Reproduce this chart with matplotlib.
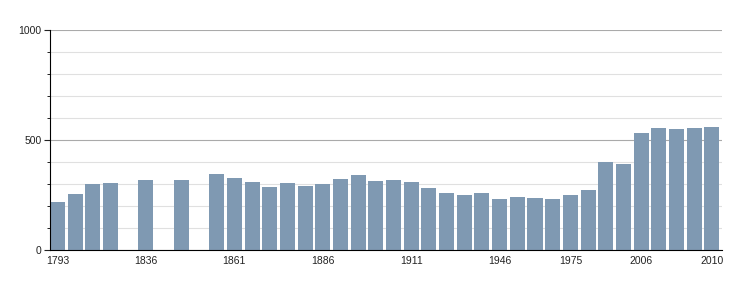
import numpy as np
import matplotlib.pyplot as plt
from matplotlib.ticker import MultipleLocator

# census years, one slot each; None = no data for that year
years = [1793, 1800, 1806, 1821, 1831, 1836, 1841, 1846, 1851, 1856,
         1861, 1866, 1872, 1876, 1881, 1886, 1891, 1896, 1901, 1906,
         1911, 1921, 1926, 1931, 1936, 1946, 1954, 1962, 1968, 1975,
         1982, 1990, 1999, 2006, 2007, 2008, 2009, 2010]
population = [218, 255, 300, 305, None, 319, None, 319, None, 346,
              328, 310, 287, 305, 291, 300, 323, 341, 314, 319,
              310, 282, 259, 250, 259, 232, 241, 237, 232, 250,
              273, 401, 392, 533, 555, 551, 555, 560]
labeled_years = [1793, 1836, 1861, 1886, 1911, 1946, 1975, 2006, 2010]

plt.rcParams['font.family'] = ['Liberation Sans', 'DejaVu Sans']

fig = plt.figure(figsize=(7.5, 3), dpi=100)
ax = fig.add_axes([50 / 750, 50 / 300, 672 / 750, 220 / 300])

bar_w = 0.85
x = np.arange(len(years))
vals = np.array([np.nan if v is None else v for v in population], dtype=float)
# bars sit at the left of each slot, flush with the y axis
ax.bar(x, np.nan_to_num(vals), width=bar_w, align='edge', color='#7f99b2', zorder=3)

ax.set_xlim(0, len(years))
ax.set_ylim(0, 1000)

ax.yaxis.set_major_locator(MultipleLocator(500))
ax.yaxis.set_minor_locator(MultipleLocator(100))
ax.grid(axis='y', which='minor', color='#e0e0e0', linewidth=0.8, zorder=0)
ax.grid(axis='y', which='major', color='#aaaaaa', linewidth=0.8, zorder=1)

pos = [years.index(y) + bar_w / 2 for y in labeled_years]
ax.set_xticks(pos)
ax.set_xticklabels([str(y) for y in labeled_years])
ax.tick_params(axis='x', length=0, pad=4, labelsize=7.5, colors='#222222')
ax.tick_params(axis='y', which='major', length=4, pad=2, labelsize=7.5,
               colors='#222222')
ax.tick_params(axis='y', which='minor', length=2)

for s in ['top', 'right']:
    ax.spines[s].set_visible(False)
ax.spines['left'].set_color('black')
ax.spines['bottom'].set_color('black')
ax.spines['left'].set_zorder(4)
ax.spines['bottom'].set_zorder(4)

fig.savefig('out.png', dpi=100)
